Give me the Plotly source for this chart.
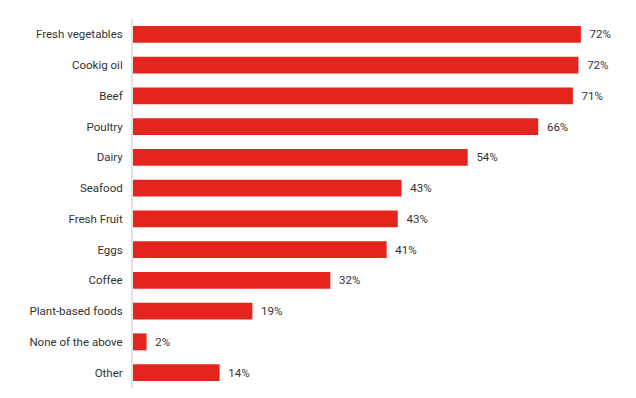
import plotly.graph_objects as go

categories = ["Fresh vegetables", "Cookig oil", "Beef", "Poultry", "Dairy", "Seafood",
              "Fresh Fruit", "Eggs", "Coffee", "Plant-based foods", "None of the above", "Other"]
values = [72.4, 72.0, 71.1, 65.5, 54.1, 43.4, 42.8, 41.0, 31.9, 19.3, 2.2, 14.0]
labels = ["72%", "72%", "71%", "66%", "54%", "43%", "43%", "41%", "32%", "19%", "2%", "14%"]

fig = go.Figure(go.Bar(
    y=categories, x=values, orientation="h",
    marker=dict(color="#e6241e", line=dict(width=0)),
    text=["  " + t for t in labels], textposition="outside",
    textfont=dict(family="Roboto", size=11.5, color="#333333"),
    cliponaxis=False,
))

fig.update_layout(
    width=628, height=382,
    margin=dict(l=125, r=39, t=11, b=2),
    paper_bgcolor="white", plot_bgcolor="white",
    bargap=0.45, showlegend=False,
    font=dict(family="Roboto", size=11.5, color="#333333"),
    xaxis=dict(range=[0, 75], visible=False, showgrid=False, zeroline=False),
    yaxis=dict(autorange="reversed", showline=True, linecolor="#e3e3e3", linewidth=2,
               showgrid=False, ticks="", ticklabelstandoff=6,
               tickfont=dict(family="Roboto", size=11.5, color="#333333")),
)

fig.write_html("out.html")
